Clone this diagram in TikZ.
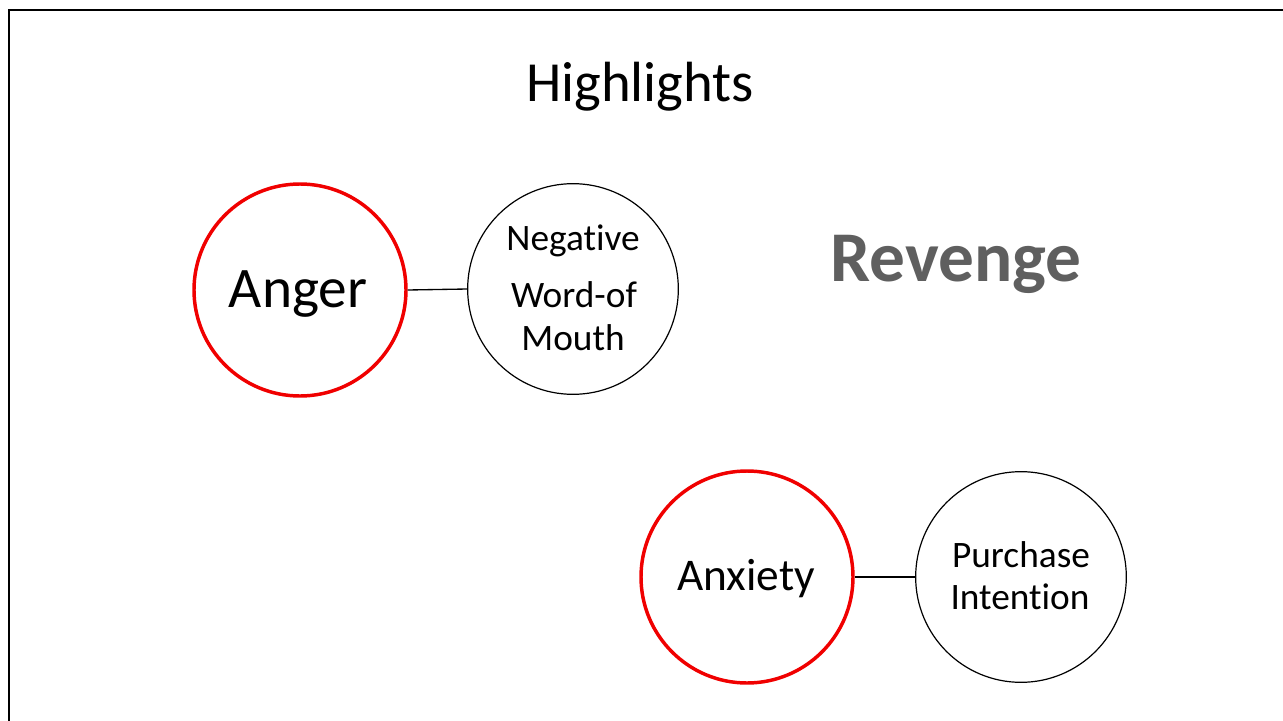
\documentclass[tikz,border=0pt]{standalone}
\usepackage{fontspec}
\setmainfont{Carlito}[Ligatures={NoCommon}]
\definecolor{revgray}{RGB}{95,95,95}
\definecolor{ringred}{RGB}{240,0,0}
\tikzset{
  emo/.style={circle, draw=ringred, line width=2.6pt, minimum size=159pt, inner sep=0pt},
  outc/.style={circle, draw=black, line width=0.9pt, minimum size=158pt, inner sep=0pt},
  link/.style={draw=black, line width=1pt},
  lbl/.style={anchor=base, inner sep=0pt, text=black}
}
\begin{document}
\begin{tikzpicture}[x=0.75pt, y=-0.75pt]
\useasboundingbox (0,0) rectangle (1283,721);
\draw[line width=1.5pt] (9,740) -- (9,10) -- (1300,10);
\node[lbl, font=\fontsize{42.5}{42.5}\selectfont] (title) at (640,101) {Highlights};
\node[emo] (anger) at (300,290) {};
\node[outc] (nwom) at (573,289) {};
\draw[link] (anger.east) -- (nwom.west);
\node[lbl, font=\fontsize{43}{43}\selectfont] (tanger) at (298,307) {Anger};
\node[lbl, font=\fontsize{28}{28}\selectfont] (tneg) at (573,250) {Negative};
\node[lbl, font=\fontsize{28}{28}\selectfont] (tword) at (574,307) {Word-of};
\node[lbl, font=\fontsize{28}{28}\selectfont] (tmouth) at (573,350) {Mouth};
\node[lbl, font=\bfseries\fontsize{53.5}{53.5}\selectfont, text=revgray] (revenge) at (956,281) {Revenge};
\node[emo] (anxiety) at (747,577) {};
\node[outc] (purchase) at (1021,577) {};
\draw[link] (anxiety.east) -- (purchase.west);
\node[lbl, font=\fontsize{34}{34}\selectfont] (tanx) at (746,590) {Anxiety};
\node[lbl, font=\fontsize{28}{28}\selectfont] (tpur) at (1021,567) {Purchase};
\node[lbl, font=\fontsize{28}{28}\selectfont] (tint) at (1020,609) {Intention};
\end{tikzpicture}
\end{document}
